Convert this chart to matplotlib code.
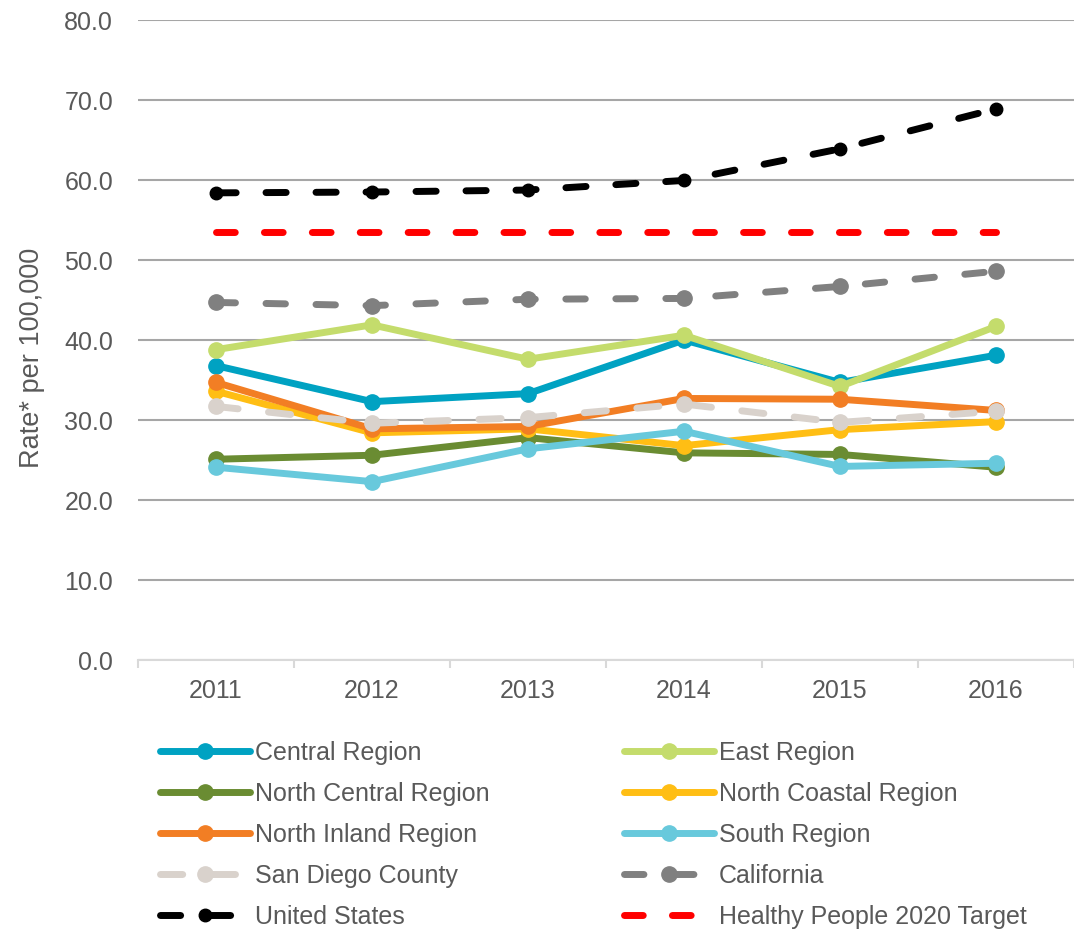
import matplotlib
matplotlib.use("Agg")
from matplotlib import pyplot as plt
from matplotlib.ticker import FixedLocator

plt.rcParams["font.family"] = ["Liberation Sans", "DejaVu Sans"]
plt.rcParams["lines.scale_dashes"] = False

years = ["2011", "2012", "2013", "2014", "2015", "2016"]

central = [36.8, 32.3, 33.3, 40.0, 34.7, 38.1]
east = [38.8, 41.9, 37.6, 40.6, 34.2, 41.7]
north_central = [25.1, 25.6, 27.8, 25.9, 25.7, 24.1]
north_coastal = [33.6, 28.4, 28.9, 26.8, 28.8, 29.8]
north_inland = [34.7, 28.9, 29.2, 32.7, 32.6, 31.2]
south = [24.1, 22.3, 26.4, 28.6, 24.2, 24.6]
san_diego = [31.7, 29.6, 30.3, 32.0, 29.7, 31.1]
california = [44.7, 44.3, 45.1, 45.2, 46.7, 48.6]
united_states = [58.4, 58.5, 58.75, 59.95, 63.9, 68.9]
hp2020_target = [53.5, 53.5, 53.5, 53.5, 53.5, 53.5]

TEXT = "#595959"
FS = 18

fig = plt.figure(figsize=(10.74, 9.32), dpi=100)
ax = fig.add_axes([0.1285, 0.2918, 0.8715, 0.6867])

x = range(len(years))

# name, values, colour, dashes (None = solid), marker size (0 = none)
series = [
    ("Central Region", central, "#00A2C2", None, 11),
    ("East Region", east, "#C4DC6C", None, 11),
    ("North Central Region", north_central, "#6A8C32", None, 11),
    ("North Coastal Region", north_coastal, "#FFBE14", None, 11),
    ("North Inland Region", north_inland, "#F27E24", None, 11),
    ("South Region", south, "#68C9DC", None, 11),
    ("San Diego County", san_diego, "#D9D2CC", (16, 22), 11),
    ("California", california, "#808080", (14, 22), 11),
    ("United States", united_states, "#000000", (14.5, 21.5), 9),
    ("Healthy People 2020 Target", hp2020_target, "#FF0000", (13.5, 21), 0),
]

handles = {}
for name, vals, col, dash, ms in series:
    kw = dict(color=col, lw=5, label=name, solid_capstyle="round",
              dash_capstyle="round")
    if ms:
        kw.update(marker="o", markersize=ms)
    (ln,) = ax.plot(x, vals, **kw)
    if dash:
        ln.set_dashes(dash)
    handles[name] = ln

ax.set_xlim(-0.5, 5.5)
ax.set_ylim(0, 80)
ax.set_yticks(range(0, 81, 10))
ax.set_yticklabels([f"{v:.1f}" for v in range(0, 81, 10)])
ax.set_xticks(list(x))
ax.set_xticklabels(years)
ax.xaxis.set_minor_locator(FixedLocator([i - 0.5 for i in range(7)]))

ax.grid(axis="y", color="#A6A6A6", lw=1.5)
ax.set_axisbelow(True)
for s in ["top", "right", "left"]:
    ax.spines[s].set_visible(False)
ax.spines["bottom"].set_color("#D9D9D9")
ax.spines["bottom"].set_linewidth(1.5)
ax.tick_params(axis="y", length=0, pad=18, labelsize=FS, labelcolor=TEXT)
ax.tick_params(axis="x", which="major", length=0, pad=14, labelsize=FS, labelcolor=TEXT)
ax.tick_params(axis="x", which="minor", length=6, width=1.5, color="#D9D9D9")
ax.set_ylabel("Rate* per 100,000", fontsize=19.5, color=TEXT)
ax.yaxis.set_label_coords(-0.099, 0.472)

# legend fills column-wise, so list left column then right column
order = ["Central Region", "North Central Region", "North Inland Region",
         "San Diego County", "United States",
         "East Region", "North Coastal Region", "South Region",
         "California", "Healthy People 2020 Target"]
leg = fig.legend([handles[n] for n in order], order, ncol=2,
                 loc="upper left", bbox_to_anchor=(0.1397, 0.216),
                 frameon=False, fontsize=FS, handlelength=3.6,
                 handletextpad=0.2, labelspacing=0.68, columnspacing=5.36,
                 borderaxespad=0)
for t in leg.get_texts():
    t.set_color(TEXT)

fig.savefig("out.png", dpi=100)
